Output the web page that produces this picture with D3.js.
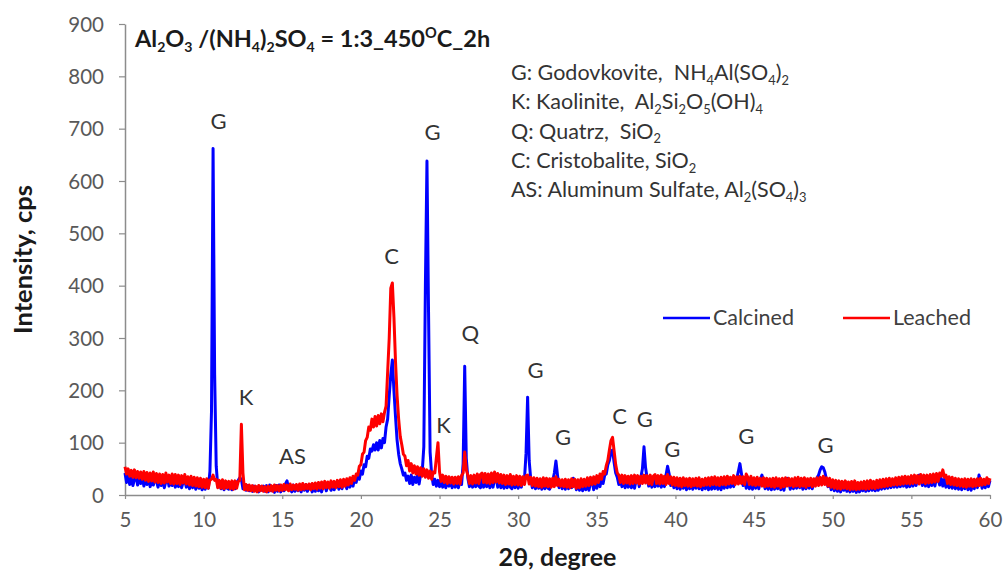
<!DOCTYPE html>
<html>
<head>
<meta charset="utf-8">
<script src="https://cdn.jsdelivr.net/npm/d3@7"></script>
<style>
  body { margin: 0; background: #fff; }
  svg { display: block; font-family: Lato, "Open Sans", sans-serif; }
</style>
</head>
<body>
<script>
// scan: 2theta from 5 to 60 deg, 0.1 deg step
const scanStart = 5;
const scanStep = 0.1;

// Calcined (blue), cps, one row per degree
const calcined = [
  42,24,36,20,33,18,30,38,19,31,
  22,34,17,30,20,33,16,28,19,31,
  27,15,30,18,29,14,26,32,17,28,
  18,30,15,27,16,29,14,25,28,15,
  25,12,27,14,24,11,25,13,22,10,
  21,11,24,13,45,160,662,230,55,16,
  24,12,22,10,25,13,11,23,10,21,
  12,24,28,33,30,12,19,9,18,8,
  16,7,17,8,15,6,16,9,17,7,
  18,6,19,8,16,5,18,7,19,6,
  17,8,21,27,12,18,6,19,7,18,
  8,17,6,18,9,20,7,17,19,6,
  18,7,20,8,19,6,18,21,8,19,
  20,9,22,10,21,25,11,23,12,26,
  24,12,27,15,29,17,32,24,38,30,
  46,40,58,54,74,70,88,84,96,86,
  100,86,104,90,108,100,130,145,190,230,
  258,200,150,105,78,60,50,38,42,28,
  36,22,38,20,34,24,37,21,40,45,
  92,400,638,350,82,38,20,30,17,28,
  16,30,15,28,14,29,17,31,14,28,
  15,30,14,28,20,60,246,70,32,16,
  30,15,31,16,32,17,14,30,15,31,
  16,32,14,30,15,31,33,15,30,14,
  30,13,28,14,31,15,12,29,14,30,
  13,29,15,31,30,80,187,65,30,14,
  28,12,29,13,27,11,26,12,28,13,
  11,27,28,42,65,38,14,25,12,24,
  11,25,12,24,14,32,26,10,24,9,
  23,8,25,10,26,9,24,27,10,25,
  13,28,16,31,22,38,40,58,66,82,
  86,62,42,34,20,29,16,30,14,28,
  15,30,14,31,13,29,32,16,34,50,
  92,52,32,17,31,15,30,16,32,17,
  29,15,28,16,38,55,40,18,27,14,
  26,12,25,11,27,13,26,10,27,12,
  25,11,24,13,28,12,24,10,26,12,
  27,10,28,11,29,12,25,11,28,10,
  27,13,28,14,29,15,27,16,30,32,
  45,60,40,18,30,13,29,12,28,11,
  27,13,28,12,30,38,28,12,26,11,
  26,10,28,11,27,12,29,10,27,9,
  28,32,26,11,24,12,25,13,27,14,
  26,11,28,12,25,13,29,12,28,20,
  33,38,48,54,52,44,30,16,26,10,
  24,8,23,7,22,6,21,9,20,7,
  21,6,20,7,19,5,21,6,20,8,
  22,7,21,8,23,9,20,8,22,9,
  23,11,24,12,26,13,25,14,27,15,
  28,15,29,16,30,17,28,15,31,16,
  32,17,33,18,34,38,30,18,33,17,
  32,16,33,18,34,17,35,30,19,32,
  17,30,15,28,14,27,13,26,12,25,
  11,24,10,23,12,25,10,24,9,23,
  12,25,14,38,28,13,27,14,29,16,
  28
];

// Leached (red), cps
const leached = [
  54,40,50,36,47,34,48,33,45,32,
  44,30,45,28,43,26,42,27,44,25,
  41,24,40,22,39,23,42,25,38,22,
  40,21,39,22,38,20,37,23,39,21,
  35,19,36,18,34,17,33,16,32,15,
  30,14,31,13,29,30,38,28,30,14,
  28,13,29,12,27,14,26,12,27,11,
  27,13,26,28,135,42,10,20,9,19,
  8,18,7,17,6,18,8,17,7,16,
  6,17,8,18,7,19,9,18,8,19,
  9,20,10,19,8,21,10,19,11,20,
  9,21,10,22,11,20,12,21,10,22,
  12,23,11,24,13,25,12,26,14,25,
  13,27,15,26,14,28,16,29,15,30,
  17,31,19,33,22,36,28,40,38,55,
  58,78,82,104,110,130,124,145,130,150,
  132,152,136,155,140,158,170,235,300,395,
  405,340,255,190,145,112,96,78,74,56,
  66,46,60,42,56,40,54,38,52,36,
  50,34,48,32,46,30,44,42,72,100,
  44,26,38,24,36,22,35,23,34,21,
  34,22,35,21,37,42,82,48,38,22,
  37,21,38,23,40,22,39,42,24,41,
  23,40,22,42,24,44,25,41,23,39,
  22,38,20,37,21,39,19,36,20,37,
  19,36,18,35,20,37,38,21,34,18,
  33,17,32,16,31,15,33,17,32,16,
  31,15,32,16,35,18,30,17,29,16,
  30,15,29,14,31,16,30,13,29,14,
  31,16,30,17,33,18,34,20,35,21,
  37,24,40,30,45,40,56,66,86,104,
  110,84,58,42,38,24,38,22,37,23,
  36,21,37,22,38,23,37,21,36,22,
  38,23,37,21,38,20,36,39,22,37,
  21,38,22,36,20,39,22,35,19,34,
  18,33,17,32,16,33,18,31,17,32,
  16,31,18,32,17,33,16,30,18,32,
  19,33,18,34,20,35,19,33,18,34,
  20,35,19,36,21,34,22,37,20,35,
  21,36,22,35,20,40,34,20,36,19,
  33,18,34,19,32,17,33,16,32,17,
  31,16,32,15,33,17,31,14,32,16,
  33,17,32,18,31,16,33,17,34,16,
  32,17,33,15,31,18,32,16,31,17,
  33,18,34,19,36,20,33,17,32,15,
  29,13,28,12,27,11,26,13,27,12,
  25,10,26,11,27,10,24,11,25,12,
  26,11,27,12,28,13,26,12,28,14,
  29,15,30,16,31,17,32,18,31,19,
  33,19,34,20,35,21,36,22,35,21,
  37,22,38,23,37,21,39,24,38,22,
  38,23,39,24,40,25,41,26,42,36,
  48,34,38,22,35,20,34,19,32,18,
  31,17,30,16,31,15,30,17,31,16,
  30,17,31,18,32,19,30,20,33,22,
  32
];

const xTicks = [5, 10, 15, 20, 25, 30, 35, 40, 45, 50, 55, 60];
const yTicks = [0, 100, 200, 300, 400, 500, 600, 700, 800, 900];

// peak labels: phase letter, 2theta and intensity where the label baseline sits
const peakNames = ["G", "K", "AS", "C", "G", "K", "Q", "G", "G", "C", "G", "G", "G", "G"];
const peakTheta = [10.95, 12.7, 15.65, 21.95, 24.55, 25.25, 26.95, 31.1, 32.85, 36.45, 38.05, 39.8, 44.5, 49.55];
const peakLevel = [700, 172, 60, 442, 678, 118, 294, 224, 96, 136, 130, 72, 98, 80];

const phaseNotes = [
  "G: Godovkovite,  NH_{4}Al(SO_{4})_{2}",
  "K: Kaolinite,  Al_{2}Si_{2}O_{5}(OH)_{4}",
  "Q: Quatrz,  SiO_{2}",
  "C: Cristobalite, SiO_{2}",
  "AS: Aluminum Sulfate, Al_{2}(SO_{4})_{3}"
];
const chartTitle = "Al_{2}O_{3} /(NH_{4})_{2}SO_{4} = 1:3_450^{O}C_2h";

const seriesNames = ["Calcined", "Leached"];
const seriesColors = ["#0000ff", "#ff0000"];

const width = 1007;
const height = 574;
const margin = { left: 125, right: 17, top: 24, bottom: 79 };

const svg = d3.select("body").append("svg")
  .attr("width", width)
  .attr("height", height);

const x = d3.scaleLinear().domain([5, 60]).range([margin.left, width - margin.right]);
const y = d3.scaleLinear().domain([0, 900]).range([height - margin.bottom, margin.top]);

// axes
const xAxis = svg.append("g")
  .attr("transform", `translate(0,${height - margin.bottom})`)
  .call(d3.axisBottom(x).tickValues(xTicks).tickSize(4).tickSizeOuter(0).tickPadding(13));
const yAxis = svg.append("g")
  .attr("transform", `translate(${margin.left},0)`)
  .call(d3.axisLeft(y).tickValues(yTicks).tickSize(6).tickSizeOuter(0).tickPadding(15));

[xAxis, yAxis].forEach((ax) => {
  ax.select(".domain").attr("stroke", "#8c8c8c").attr("stroke-width", 1.5);
  ax.selectAll(".tick line").attr("stroke", "#8c8c8c").attr("stroke-width", 1.2);
  ax.selectAll(".tick text")
    .attr("fill", "#595959")
    .style("font-size", "20.5px")
    .style("font-family", "Lato, sans-serif");
});
yAxis.selectAll(".tick text").attr("dy", "0.35em");

// rich text helper: _{..} subscript, ^{..} superscript
const richText = (sel, str, size) => {
  const parts = str.split(/([_^]\{[^}]*\})/).filter((s) => s.length);
  let shift = 0;
  sel.style("white-space", "pre");
  parts.forEach((p) => {
    let target = 0;
    let txt = p;
    let fs = size;
    if (p.startsWith("_{")) { target = size * 0.22; txt = p.slice(2, -1); fs = size * 0.6; }
    else if (p.startsWith("^{")) { target = -size * 0.38; txt = p.slice(2, -1); fs = size * 0.62; }
    sel.append("tspan")
      .attr("dy", target - shift)
      .style("font-size", fs + "px")
      .text(txt);
    shift = target;
  });
};

// series
const line = d3.line()
  .x((d, i) => x(scanStart + i * scanStep))
  .y((d) => y(d));

[calcined, leached].forEach((vals, k) => {
  svg.append("path")
    .datum(vals)
    .attr("fill", "none")
    .attr("stroke", seriesColors[k])
    .attr("stroke-width", 3)
    .attr("stroke-linejoin", "round")
    .attr("d", line);
});

// peak labels
svg.append("g")
  .selectAll("text")
  .data(peakNames)
  .enter()
  .append("text")
  .attr("x", (d, i) => x(peakTheta[i]))
  .attr("y", (d, i) => y(peakLevel[i]))
  .attr("text-anchor", "middle")
  .attr("fill", "#333")
  .style("font-size", "22px")
  .text((d) => d);

// title
const title = svg.append("text")
  .attr("x", 135)
  .attr("y", 47)
  .attr("fill", "#1a1a1a")
  .style("font-weight", "bold");
richText(title, chartTitle, 23.5);

// phase notes
phaseNotes.forEach((s, i) => {
  const t = svg.append("text")
    .attr("x", 511)
    .attr("y", 80 + i * 29.3)
    .attr("fill", "#333");
  richText(t, s, 21.5);
});

// series legend
const legendX = [663, 843];
seriesNames.forEach((name, k) => {
  svg.append("line")
    .attr("x1", legendX[k]).attr("x2", legendX[k] + 47)
    .attr("y1", 318).attr("y2", 318)
    .attr("stroke", seriesColors[k])
    .attr("stroke-width", 2.6);
  svg.append("text")
    .attr("x", legendX[k] + 50)
    .attr("y", 325)
    .attr("fill", "#404040")
    .style("font-size", "21.5px")
    .text(name);
});

// axis titles
svg.append("text")
  .attr("x", (margin.left + width - margin.right) / 2)
  .attr("y", 566)
  .attr("text-anchor", "middle")
  .attr("fill", "#1a1a1a")
  .style("font-size", "25px")
  .style("font-weight", "bold")
  .text("2θ, degree");

svg.append("text")
  .attr("transform", `translate(32,${(margin.top + height - margin.bottom) / 2}) rotate(-90)`)
  .attr("text-anchor", "middle")
  .attr("fill", "#1a1a1a")
  .style("font-size", "25.5px")
  .style("font-weight", "bold")
  .text("Intensity, cps");
</script>
</body>
</html>
